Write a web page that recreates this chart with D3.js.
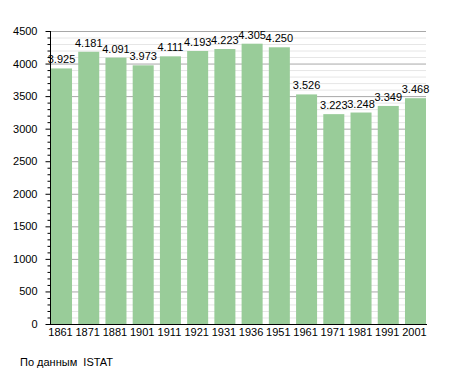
<!DOCTYPE html>
<html><head><meta charset="utf-8">
<script src="https://cdn.jsdelivr.net/npm/d3@7"></script>
<style>body{margin:0;background:#fff}text{font-family:"Liberation Sans",Arial,sans-serif;white-space:pre}</style>
</head><body><svg id="c" width="455" height="373"></svg>
<script>
const years = ["1861","1871","1881","1901","1911","1921","1931","1936","1951","1961","1971","1981","1991","2001"];
const population = [3925,4181,4091,3973,4111,4193,4223,4305,4250,3526,3223,3248,3349,3468];
const labels = ["3.925","4.181","4.091","3.973","4.111","4.193","4.223","4.305","4.250","3.526","3.223","3.248","3.349","3.468"];
const majorTicks = [0,500,1000,1500,2000,2500,3000,3500,4000,4500];
const source = "По данным  ISTAT";

(function(){
const svg = d3.select("#c");
const pL = 50, pR = 426, pT = 31, pB = 324;
const x = d3.scaleBand().domain(years).range([51, pR]).paddingInner(0.228).paddingOuter(0);
const y = d3.scaleLinear().domain([0,4500]).range([pB, pT]);
const minor = d3.range(0, 4501, 100);

// grid
svg.append("g").selectAll("line").data(minor).join("line")
  .attr("x1", pL).attr("x2", pR)
  .attr("y1", d=>y(d)+0.5).attr("y2", d=>y(d)+0.5)
  .attr("stroke", d=> d%500===0 ? "#a8a8a8" : "#e6e6e6").attr("stroke-width",1);

// bars
svg.append("g").selectAll("rect").data(population).join("rect")
  .attr("x", (d,i)=>x(years[i])).attr("width", x.bandwidth())
  .attr("y", d=>y(d)).attr("height", d=>pB-y(d))
  .attr("fill", "#99cc99");

// value labels
svg.append("g").selectAll("text").data(population).join("text")
  .attr("x", (d,i)=>x(years[i])+x.bandwidth()/2).attr("y", d=>y(d)-5)
  .attr("text-anchor","middle").attr("font-size","11px").attr("fill","#000")
  .text((d,i)=>labels[i]);

// y axis
const ya = svg.append("g").attr("transform", `translate(${pL+0.5},0)`);
ya.append("line").attr("x1",0).attr("x2",0).attr("y1",pT).attr("y2",pB).attr("stroke","#000");
ya.selectAll("line.minor").data(minor).join("line").attr("class","minor")
  .attr("x1", d=> d%500===0 ? -5 : -3).attr("x2",0)
  .attr("y1", d=>y(d)+0.5).attr("y2", d=>y(d)+0.5).attr("stroke","#000");
ya.selectAll("text").data(majorTicks).join("text")
  .attr("x",-13).attr("y", d=>y(d)+4).attr("text-anchor","end")
  .attr("font-size","11px").text(d=>d);

// x axis
svg.append("line").attr("x1",pL).attr("x2",pR+1).attr("y1",pB+0.5).attr("y2",pB+0.5).attr("stroke","#000");
svg.append("g").selectAll("text").data(years).join("text")
  .attr("x", d=>x(d)+x.bandwidth()/2 - 1).attr("y", pB+12)
  .attr("text-anchor","middle").attr("font-size","11px").text(d=>d);

svg.append("text").attr("x",20).attr("y",366).attr("font-size","11px").text(source);
})();
</script></body></html>
